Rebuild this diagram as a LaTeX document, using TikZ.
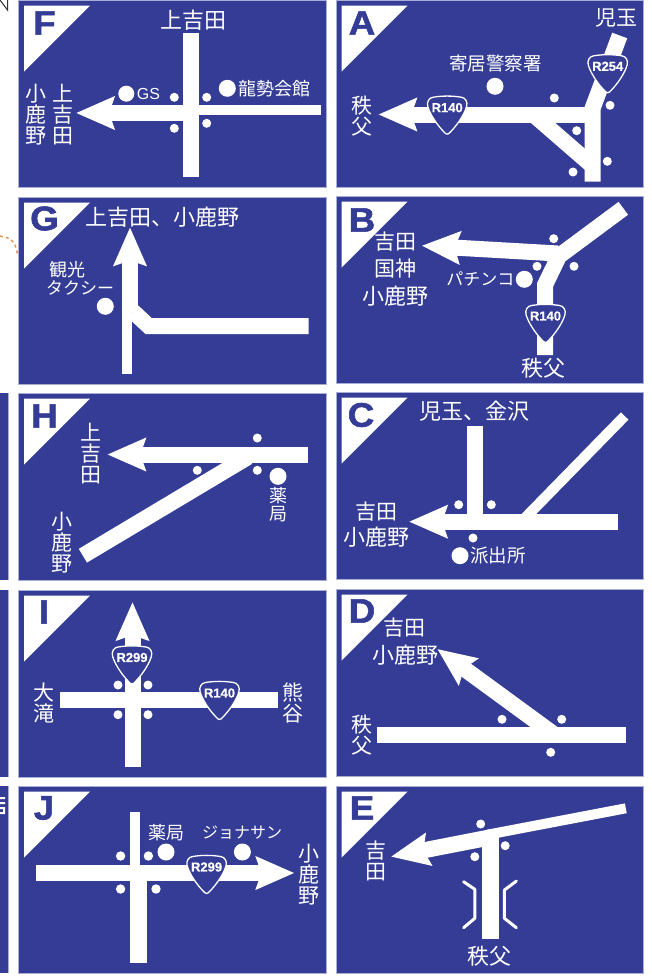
\documentclass[tikz,border=0pt]{standalone}
\usepackage{fontspec}
\newfontfamily\cjk{Noto Sans CJK JP}
\newfontfamily\lat{Liberation Sans}
\newfontfamily\heavy{Liberation Sans}[BoldFeatures={FakeBold=1.6,FakeStretch=1.08}]
\newfontfamily\shieldfont{Liberation Sans}[BoldFeatures={FakeBold=0.6}]
\usetikzlibrary{arrows.meta}
\definecolor{signblue}{HTML}{343C95}
\definecolor{signedge}{HTML}{A9AED6}
\definecolor{routeorange}{HTML}{E0994F}

\begin{document}
\begin{tikzpicture}[x=1pt, y=-1pt, >=Stealth]
  \tikzset{panel/.style={fill=signblue, draw=signedge, line width=0.7pt}}
  \tikzset{road/.style={draw=white, line width=16pt}}
  \tikzset{thinroad/.style={draw=white, line width=10.5pt}}
  \tikzset{signarrow/.style={road, -{Stealth[length=38pt, width=32pt, inset=5pt]}}}
  \tikzset{tagletter/.style={text=signblue, inner sep=0pt, font=\heavy\bfseries\fontsize{34}{34}\selectfont}}
  \tikzset{lbl/.style={text=white, inner sep=0pt, align=center, font=\cjk\fontsize{#1}{#1}\selectfont}}
  \tikzset{shield/.pic={
    \draw[fill=signblue, draw=white, line width=1.3pt]
      (-14,-18) .. controls (-5,-19.5) and (5,-19.5) .. (14,-18)
      .. controls (18.5,-17.5) and (20.5,-13) .. (19.5,-9)
      .. controls (17,0) and (9,11) .. (3,17)
      .. controls (1,19.5) and (-1,19.5) .. (-3,17)
      .. controls (-9,11) and (-17,0) .. (-19.5,-9)
      .. controls (-20.5,-13) and (-18.5,-17.5) .. (-14,-18) -- cycle;
    \node[text=white, inner sep=0pt, font=\shieldfont\bfseries\fontsize{13}{13}\selectfont] (-txt) at (0,-7.5) {#1};
  }}

  \useasboundingbox (0,0) rectangle (652,977);

  % bits of the neighbouring page
  \draw[black!80, line width=1pt] (0,0) -- (7.5,10) -- (7.5,0);
  \draw[routeorange, line width=1.5pt, dashed] (0,236) .. controls (8,238) and (16,238) .. (17.5,256);
  \foreach \y/\h in {393/580, 590/777, 786/973} {
    \fill[signblue] (-2,\y) rectangle (8,\h);
    \draw[signedge, line width=0.7pt] (8,\y) -- (8,\h);
  }
  \fill[white] (0,797) rectangle (5,799) (0,802) rectangle (5,804) (0,807) rectangle (5,809) (3,809) rectangle (5,814) (0,812) rectangle (5,814);

  % panels with their corner tags
  \foreach \tag/\x/\y/\lx/\ly in {F/18.5/0/44.5/23, G/18.5/197/44.5/218.5, H/18.5/393/44.5/416, I/18.5/590/44/612, J/18.5/786/44/808,
                                  A/336/0/362/23, B/336/196/362/220, C/336/392/361/415, D/336/589/362/611, E/336/786/362/808} {
    \draw[panel] (\x,\y) rectangle ++(307.8,187);
    \fill[white] (\x+5.5,\y+5.7) -- (\x+71.5,\y+5.7) -- (\x+5.5,\y+71.7) -- cycle;
    \node[tagletter] (tag\tag) at (\lx,\ly) {\tag};
  }

  % F
  \draw[road] (191,33) -- (191,177);
  \draw[road, line width=10pt] (321,110) -- (185,110);
  \draw[signarrow] (199,113) -- (76,113);
  \foreach \x/\y in {174.3/97.3, 206.7/97.3, 174.3/128.3, 206.7/123.3} \fill[white] (\x,\y) circle (4.5);
  \fill[white] (126.3,93.7) circle (8) (227.3,88.3) circle (8.5);
  \node[text=white, inner sep=0pt, font=\lat\fontsize{16}{16}\selectfont] (gs) at (148.5,94) {GS};
  \node[lbl=18] (ryusei) at (274.5,88.5) {龍勢会館};
  \node[lbl=22] (fTop) at (193,20) {上吉田};
  \node[lbl=21] (fKoshika) at (35.5,115) {小\\鹿\\野};
  \node[lbl=21] (fKami) at (63,115) {上\\吉\\田};

  % G
  \draw[road, line width=10.6pt] (127,374) -- (127,300);
  \draw[signarrow] (130,312) -- (130,227.3);
  \draw[road] (308.7,326) -- (148.6,326) -- (133,311.5);
  \fill[white] (105.3,306.3) circle (8.5);
  \node[lbl=22] (gTop) at (162,217) {上吉田、小鹿野};
  \node[lbl=18] (kanko) at (67,270) {観光};
  \node[lbl=17] (taxi) at (80,288) {タクシー};

  % H
  \draw[signarrow] (307.7,454.5) -- (107.3,454.5);
  \draw[road] (82.9,555.7) -- (248,457);
  \foreach \x/\y in {257.3/438, 197.3/470.3, 257.3/470.3} \fill[white] (\x,\y) circle (4.5);
  \fill[white] (278,476.3) circle (8.5);
  \node[lbl=21] (hKami) at (91.2,454) {上\\吉\\田};
  \node[lbl=21] (hKoshika) at (62,543) {小\\鹿\\野};
  \node[lbl=18] (hYakkyoku) at (278,505) {薬\\局};

  % I
  \draw[signarrow] (132.5,767.3) -- (132.5,602);
  \draw[road] (59.7,700) -- (277.7,700);
  \pic (iA) at (132,665) {shield=R299};
  \pic (iB) at (219.5,700.5) {shield=R140};
  \foreach \x/\y in {118/685, 148/685, 118/714.7, 148/714.7} \fill[white] (\x,\y) circle (4.5);
  \node[lbl=21] (otaki) at (44.2,703) {大\\滝};
  \node[lbl=21] (kumagaya) at (293.3,703) {熊\\谷};

  % J
  \draw[road, line width=10pt] (135,812) -- (135,870);
  \draw[road, line width=16.5pt] (138.7,870) -- (138.7,963);
  \draw[signarrow] (36,873) -- (294.4,873);
  \pic (jA) at (206.6,874.5) {shield=R299};
  \foreach \x/\y in {120.6/856, 148.4/856, 120.6/889, 156/889} \fill[white] (\x,\y) circle (4.7);
  \fill[white] (166,852) circle (8.5) (242.4,852) circle (8.5);
  \node[lbl=18] (jYakkyoku) at (166,833) {薬局};
  \node[lbl=16] (jonathan) at (242,833) {ジョナサン};
  \node[lbl=21] (jKoshika) at (309,875) {小\\鹿\\野};

  % A
  \draw[signarrow] (598,114.5) -- (378.3,114.5);
  \draw[road] (592.7,181.7) -- (592.7,108) -- (619.7,35.5);
  \draw[road] (536,116.8) -- (590,163.7);
  \pic (aA) at (607.7,73.8) {shield=R254};
  \pic (aB) at (447.2,115.2) {shield=R140};
  \foreach \x/\y in {554.3/98, 610/105.3, 576.7/130.7, 607.3/161.3, 573/172} \fill[white] (\x,\y) circle (4.5);
  \fill[white] (495,86.3) circle (8.5);
  \node[lbl=18.5] (yorii) at (495.3,63) {寄居警察署};
  \node[lbl=21] (aKodama) at (616.3,18) {児玉};
  \node[lbl=21] (aChichibu) at (361.5,116.5) {秩\\父};

  % B
  \draw[signarrow] (558,253.5) -- (421.7,245.7);
  \draw[road, line join=miter] (545,355) -- (545,285) -- (559,256) -- (623.3,208.3);
  \pic (bA) at (545.5,323.5) {shield=R140};
  \foreach \x/\y in {553.7/238.7, 537/266.3, 574/266.3} \fill[white] (\x,\y) circle (4.5);
  \fill[white] (524.3,279.3) circle (8.5);
  \node[lbl=21] (bYoshida) at (395.3,241.7) {吉田};
  \node[lbl=21] (bKokujin) at (395.3,268.5) {国神};
  \node[lbl=22] (bKoshika) at (395.3,296) {小鹿野};
  \node[lbl=17] (pachinko) at (480.3,279) {パチンコ};
  \node[lbl=22] (bChichibu) at (543.3,368) {秩父};

  % C
  \draw[signarrow] (618,521.7) -- (409,521.7);
  \draw[road] (475.2,426) -- (475.2,515);
  \draw[thinroad] (624.7,416) -- (525,518);
  \foreach \x/\y in {458.7/504.7, 491.3/504.7, 473/538} \fill[white] (\x,\y) circle (4.5);
  \fill[white] (460,555.7) circle (8.5);
  \node[lbl=22] (cTop) at (474.7,411.5) {児玉、金沢};
  \node[lbl=21] (cYoshida) at (376.3,511.8) {吉田};
  \node[lbl=22] (cKoshika) at (376.7,537) {小鹿野};
  \node[lbl=18.5] (hashutsu) at (497.8,556) {派出所};

  % D
  \draw[road] (376.7,735) -- (626,735);
  \draw[signarrow] (556,735.8) -- (437.3,649);
  \foreach \x/\y in {502/719.3, 561.7/719.3, 550.7/752.3} \fill[white] (\x,\y) circle (4.5);
  \node[lbl=21] (dYoshida) at (404.7,627.3) {吉田};
  \node[lbl=22] (dKoshika) at (405,655) {小鹿野};
  \node[lbl=21] (dChichibu) at (361.5,735.5) {秩\\父};

  % E
  \draw[road, line width=16.7pt] (490.7,939) -- (490.7,835);
  \draw[road, line width=10pt] (625.8,808.3) -- (488,834.6);
  \draw[signarrow] (492,837) -- (390.9,856.7);
  \foreach \x/\y in {480.7/824, 505.2/845.7, 474.8/856.7} \fill[white] (\x,\y) circle (4.5);
  \draw[white, line width=3pt, line cap=round, line join=round] (463.6,881.7) -- (474.8,889.3) -- (474.8,918.3) -- (463.6,927.7);
  \draw[white, line width=3pt, line cap=round, line join=round] (516.4,881) -- (504.4,890) -- (504.4,918.3) -- (516.4,927.7);
  \node[lbl=21] (eYoshida) at (375.5,861.3) {吉\\田};
  \node[lbl=22] (eChichibu) at (489.6,956) {秩父};
\end{tikzpicture}
\end{document}
